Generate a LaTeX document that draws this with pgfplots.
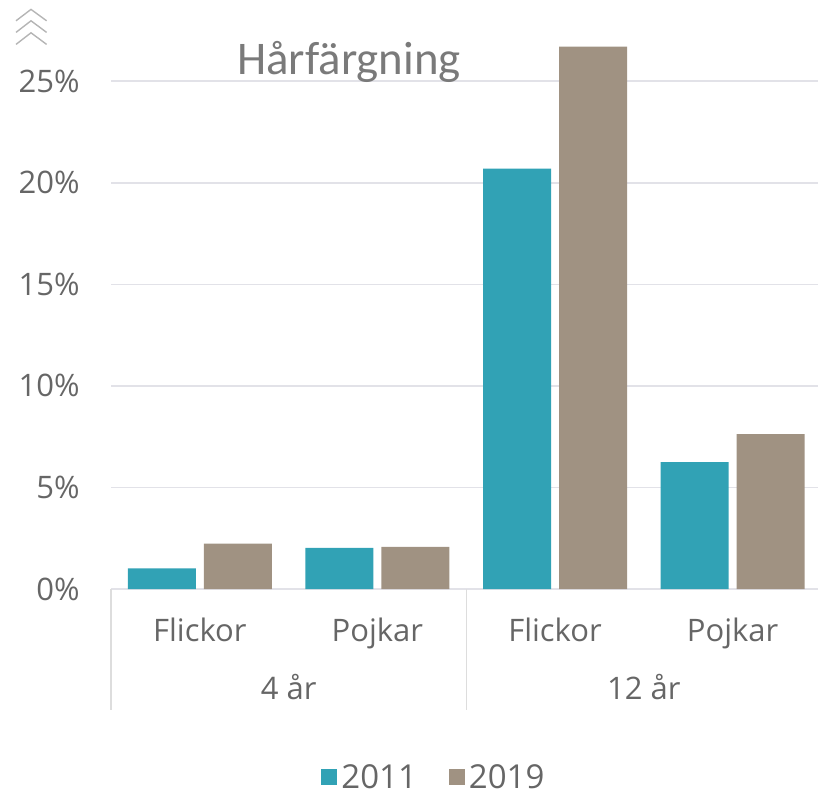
\documentclass[border=0pt]{standalone}
\usepackage{fontspec}
\setmainfont{Open Sans}
\newfontfamily\titlefont{Carlito}
\usepackage{pgfplots}
\pgfplotsset{compat=1.18}
\definecolor{tealc}{HTML}{31A2B5}
\definecolor{taupe}{HTML}{A09282}
\definecolor{txt}{HTML}{666666}
\definecolor{titlec}{HTML}{7A7A7A}
\definecolor{gridc}{HTML}{E2E2E8}
\definecolor{sepc}{HTML}{DDDDDD}
\definecolor{chev}{HTML}{B5B5B5}
\begin{document}
\begin{tikzpicture}
\useasboundingbox (0,0) rectangle (409bp,400.5bp);
% chevron icon
\draw[chev, line width=0.7bp] (8bp,390.1bp) -- (15.5bp,395.8bp) -- (23.3bp,390.1bp);
\draw[chev, line width=0.7bp] (8bp,384.3bp) -- (15.5bp,390.1bp) -- (23.3bp,384.3bp);
\draw[chev, line width=0.7bp] (8bp,378.3bp) -- (15.5bp,384.1bp) -- (23.3bp,378.3bp);
\begin{axis}[
  at={(55.5bp,106bp)}, anchor=south west,
  scale only axis, width=355.2bp, height=294.5bp,
  xmin=-0.5, xmax=3.5, ymin=0, ymax=29,
  clip=false,
  axis line style={draw=none},
  major tick length=0pt,
  ymajorgrids, grid style={gridc, line width=0.8bp},
  ytick={0,5,10,15,20,25},
  yticklabels={0\%,5\%,10\%,15\%,20\%,25\%},
  yticklabel style={anchor=east, inner sep=0pt, xshift=-15.5bp,
    font=\fontsize{15.5bp}{18bp}\selectfont, text=txt},
  xtick={0,1,2,3},
  xticklabels={Flickor,Pojkar,Flickor,Pojkar},
  xticklabel style={anchor=base, inner sep=0pt, yshift=-26bp,
    font=\fontsize{15.5bp}{18bp}\selectfont, text=txt},
  ybar, bar width=34bp,
  legend image code/.code={\fill[#1] (0bp,-3.5bp) rectangle (8bp,4.5bp);},
  legend style={at={(0.456,-0.321)}, anchor=center, draw=none, fill=none,
    legend columns=2, font=\fontsize{16.5bp}{19bp}\selectfont, text=txt,
    /tikz/every even column/.append style={column sep=14bp},
    inner sep=0pt},
]
\addplot[fill=tealc, draw=none, bar shift=-19bp] coordinates {(0,1.02) (1,2.03) (2,20.7) (3,6.25)};
\addplot[fill=taupe, draw=none, bar shift=19bp] coordinates {(0,2.23) (1,2.08) (2,26.7) (3,7.62)};
\legend{2011,2019}
\draw[sepc, line width=0.6bp] (axis cs:-0.5,0) -- ++(0bp,-60.5bp);
\draw[sepc, line width=0.6bp] (axis cs:1.5,0) -- ++(0bp,-60.5bp);
\node[anchor=base, inner sep=0pt, font=\fontsize{15.5bp}{18bp}\selectfont, text=txt] at ([yshift=-55bp]axis cs:0.5,0) {4 år};
\node[anchor=base, inner sep=0pt, font=\fontsize{15.5bp}{18bp}\selectfont, text=txt] at ([yshift=-55bp]axis cs:2.5,0) {12 år};
\end{axis}
\node[anchor=base, inner sep=0pt, font=\titlefont\fontsize{23.4bp}{28bp}\selectfont, text=titlec] at (174.5bp,363bp) {Hårfärgning};
\end{tikzpicture}
\end{document}
